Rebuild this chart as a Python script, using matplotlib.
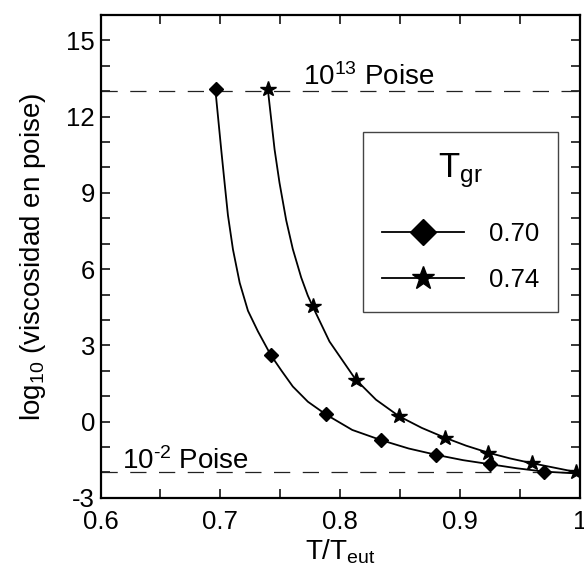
import matplotlib
matplotlib.use('Agg')
import matplotlib.pyplot as plt
from matplotlib.lines import Line2D
from matplotlib.ticker import MultipleLocator, FixedLocator

plt.rcParams['font.family'] = ['Liberation Sans', 'DejaVu Sans']
plt.rcParams['mathtext.fontset'] = 'custom'
plt.rcParams['mathtext.rm'] = 'Liberation Sans'
plt.rcParams['mathtext.it'] = 'Liberation Sans:italic'
plt.rcParams['mathtext.bf'] = 'Liberation Sans:bold'
plt.rcParams['axes.unicode_minus'] = False

# measured points, Tgr = 0.70 (diamonds)
t_070 = [0.696, 0.742, 0.788, 0.834, 0.880, 0.925, 0.970]
v_070 = [13.07, 2.62, 0.28, -0.73, -1.31, -1.68, -1.97]

# measured points, Tgr = 0.74 (stars)
t_074 = [0.740, 0.777, 0.813, 0.849, 0.887, 0.923, 0.960, 0.997]
v_074 = [13.07, 4.53, 1.65, 0.21, -0.63, -1.22, -1.64, -1.99]

# fitted curves through the points
curve_t_070 = [0.6958, 0.7008, 0.7036, 0.7063, 0.7105, 0.7161, 0.7230, 0.7313, 0.742,
               0.751, 0.7604, 0.773, 0.788, 0.810, 0.834, 0.857, 0.880, 0.9025,
               0.925, 0.9475, 0.970, 1.0]
curve_v_070 = [13.07, 10.65, 9.35, 8.12, 6.77, 5.46, 4.36, 3.55, 2.62,
               2.0, 1.38, 0.78, 0.28, -0.33, -0.73, -1.06, -1.31, -1.52,
               -1.68, -1.84, -1.97, -2.05]

curve_t_074 = [0.7396, 0.7452, 0.7493, 0.7549, 0.7604, 0.7674, 0.7729, 0.777, 0.791,
               0.8126, 0.8298, 0.849, 0.868, 0.887, 0.905, 0.923, 0.9415, 0.960,
               0.997, 1.0]
curve_v_074 = [13.07, 10.71, 9.40, 7.92, 6.79, 5.67, 4.96, 4.53, 3.15,
               1.67, 0.86, 0.21, -0.25, -0.63, -0.95, -1.22, -1.45, -1.64,
               -1.99, -2.01]

tgr_labels = ['0.70', '0.74']
limit_high = 13   # 10^13 poise
limit_low = -2    # 10^-2 poise

fig = plt.figure(figsize=(5.84, 5.70), dpi=100)
ax = fig.add_axes([0.1721, 0.1267, 0.8211, 0.8470])

ax.axhline(limit_high, color='#222222', lw=0.9, dashes=(13, 10))
ax.axhline(limit_low, color='#222222', lw=0.9, dashes=(13, 10))

ax.plot(curve_t_070, curve_v_070, color='k', lw=1.3)
ax.plot(curve_t_074, curve_v_074, color='k', lw=1.3)
ax.plot(t_070, v_070, ls='none', marker='D', ms=7.5, color='k')
ax.plot(t_074, v_074, ls='none', marker='*', ms=11.5, color='k')

ax.text(0.7685, 13.23, r'10$^{13}$ Poise', fontsize=20, va='baseline', ha='left')
ax.text(0.618, -1.88, '10$^{\u20102}$ Poise', fontsize=20, va='baseline', ha='left')

ax.set_xlim(0.6, 1.0)
ax.set_ylim(-3, 16)
ax.xaxis.set_major_locator(FixedLocator([0.6, 0.7, 0.8, 0.9, 1.0]))
ax.set_xticklabels(['0.6', '0.7', '0.8', '0.9', '1'])
ax.xaxis.set_minor_locator(MultipleLocator(0.05))
ax.yaxis.set_major_locator(MultipleLocator(3))
ax.yaxis.set_minor_locator(MultipleLocator(1))

ax.tick_params(which='both', direction='in', top=True, right=True,
               length=6.5, width=1.1)
ax.tick_params(which='major', labelsize=18.5)
ax.tick_params(axis='x', pad=8.5)
ax.tick_params(axis='y', pad=4)
for sp in ax.spines.values():
    sp.set_linewidth(1.6)

ax.set_xlabel(r'T/T$_{\mathrm{eut}}$', fontsize=20, labelpad=3)
ax.set_ylabel(r'log$_{10}$ (viscosidad en poise)', fontsize=20, labelpad=13)

handles = [Line2D([], [], color='k', lw=1.3, marker='D', ms=13),
           Line2D([], [], color='k', lw=1.3, marker='*', ms=17)]
leg = ax.legend(handles, tgr_labels, title=r'T$_{\mathrm{gr}}$', title_fontsize=25,
                fontsize=18.5, loc='upper left',
                bbox_to_anchor=(362.7 / 584, 1 - 132.3 / 570),
                bbox_transform=fig.transFigure, borderaxespad=0,
                fancybox=False, framealpha=1, edgecolor='#444444',
                handlelength=3.2, handletextpad=0.95, borderpad=0.75,
                labelspacing=0.86)
leg.get_frame().set_linewidth(1.0)
# extra room between the title and the entries
leg._legend_box.sep = 0.86 * 18.5 + 7

fig.savefig('out.png', dpi=100)
